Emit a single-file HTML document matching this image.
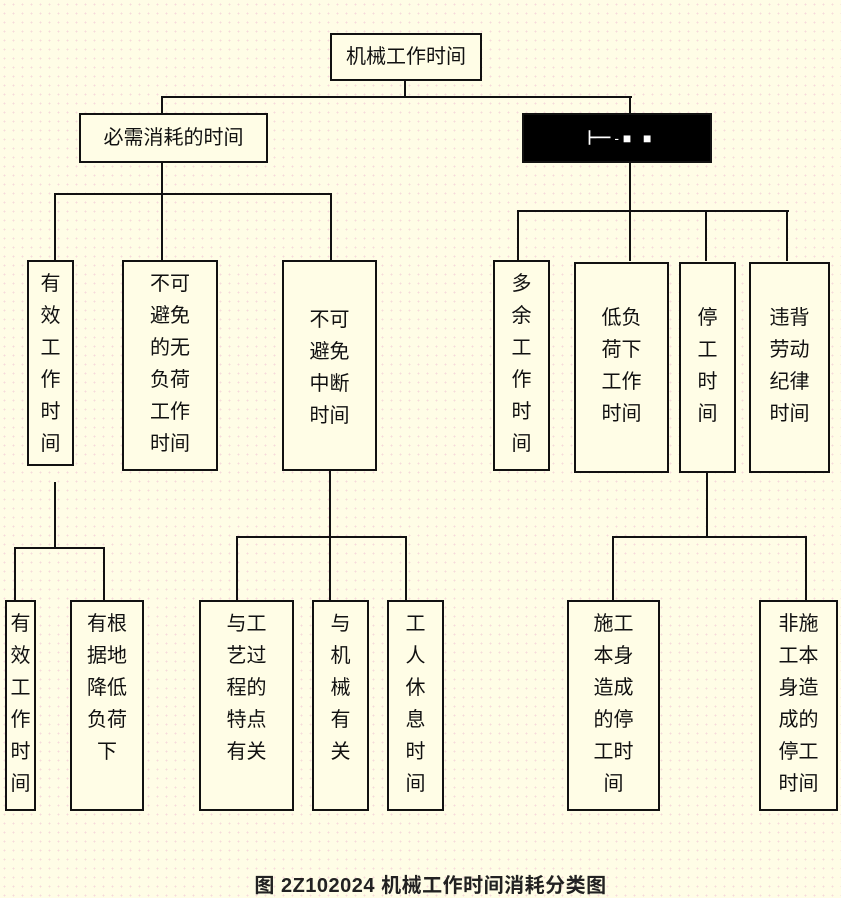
<!DOCTYPE html>
<html><head><meta charset="utf-8"><style>
body{margin:0;width:841px;height:897px;overflow:hidden;background:#fffde6;
background-image:radial-gradient(#f6dada 1px,transparent 1px);background-size:9px 9px;
font-family:"Liberation Sans","Noto Sans CJK SC",sans-serif;position:relative}
.b{position:absolute;border:2px solid #111;box-sizing:border-box;background:#fffde6;text-align:center;font-size:20px;line-height:32px;color:#111}
.h{position:absolute;height:2px;background:#111}
.v{position:absolute;width:2px;background:#111}
</style></head><body>
<div class="b" style="left:330px;top:33px;width:152px;height:48px;line-height:44px">机械工作时间</div>
<div class="v" style="left:404px;top:80px;height:18px"></div>
<div class="h" style="left:161px;top:96px;width:471px"></div>
<div class="v" style="left:161px;top:96px;height:18px"></div>
<div class="v" style="left:629px;top:96px;height:18px"></div>
<div class="b" style="left:79px;top:113px;width:189px;height:50px;line-height:46px">必需消耗的时间</div>
<div class="b" style="left:522px;top:113px;width:190px;height:50px;background:#000;color:#fff;font-size:14px;line-height:46px">┣━ - ■ &nbsp; ■</div>

<div class="v" style="left:161px;top:162px;height:33px"></div>
<div class="h" style="left:54px;top:193px;width:278px"></div>
<div class="v" style="left:54px;top:193px;height:68px"></div>
<div class="v" style="left:161px;top:193px;height:68px"></div>
<div class="v" style="left:330px;top:193px;height:68px"></div>
<div class="b" style="left:27px;top:260px;width:47px;height:206px;padding-top:6px">有<br>效<br>工<br>作<br>时<br>间</div>
<div class="b" style="left:122px;top:260px;width:96px;height:211px;padding-top:6px">不可<br>避免<br>的无<br>负荷<br>工作<br>时间</div>
<div class="b" style="left:282px;top:260px;width:95px;height:211px;padding-top:42px">不可<br>避免<br>中断<br>时间</div>

<div class="v" style="left:629px;top:162px;height:50px"></div>
<div class="h" style="left:517px;top:210px;width:272px"></div>
<div class="v" style="left:517px;top:210px;height:51px"></div>
<div class="v" style="left:629px;top:210px;height:51px"></div>
<div class="v" style="left:705px;top:210px;height:51px"></div>
<div class="v" style="left:786px;top:210px;height:51px"></div>
<div class="b" style="left:493px;top:260px;width:57px;height:211px;padding-top:6px">多<br>余<br>工<br>作<br>时<br>间</div>
<div class="b" style="left:574px;top:262px;width:95px;height:211px;padding-top:38px">低负<br>荷下<br>工作<br>时间</div>
<div class="b" style="left:679px;top:262px;width:57px;height:211px;padding-top:38px">停<br>工<br>时<br>间</div>
<div class="b" style="left:749px;top:262px;width:81px;height:211px;padding-top:38px">违背<br>劳动<br>纪律<br>时间</div>

<div class="v" style="left:54px;top:482px;height:67px"></div>
<div class="h" style="left:14px;top:547px;width:91px"></div>
<div class="v" style="left:14px;top:547px;height:54px"></div>
<div class="v" style="left:103px;top:547px;height:54px"></div>
<div class="b" style="left:5px;top:600px;width:31px;height:211px;padding-top:6px">有<br>效<br>工<br>作<br>时<br>间</div>
<div class="b" style="left:70px;top:600px;width:74px;height:211px;padding-top:6px">有根<br>据地<br>降低<br>负荷<br>下</div>

<div class="v" style="left:329px;top:470px;height:68px"></div>
<div class="h" style="left:236px;top:536px;width:171px"></div>
<div class="v" style="left:236px;top:536px;height:65px"></div>
<div class="v" style="left:329px;top:536px;height:65px"></div>
<div class="v" style="left:405px;top:536px;height:65px"></div>
<div class="b" style="left:199px;top:600px;width:95px;height:211px;padding-top:6px">与工<br>艺过<br>程的<br>特点<br>有关</div>
<div class="b" style="left:312px;top:600px;width:57px;height:211px;padding-top:6px">与<br>机<br>械<br>有<br>关</div>
<div class="b" style="left:387px;top:600px;width:57px;height:211px;padding-top:6px">工<br>人<br>休<br>息<br>时<br>间</div>

<div class="v" style="left:706px;top:472px;height:66px"></div>
<div class="h" style="left:612px;top:536px;width:195px"></div>
<div class="v" style="left:612px;top:536px;height:65px"></div>
<div class="v" style="left:805px;top:536px;height:65px"></div>
<div class="b" style="left:567px;top:600px;width:93px;height:211px;padding-top:6px">施工<br>本身<br>造成<br>的停<br>工时<br>间</div>
<div class="b" style="left:759px;top:600px;width:79px;height:211px;padding-top:6px">非施<br>工本<br>身造<br>成的<br>停工<br>时间</div>

<div style="position:absolute;left:0;width:861px;top:869px;text-align:center;font-size:20px;color:#222;font-weight:bold;letter-spacing:0.5px">图 2Z102024 机械工作时间消耗分类图</div>
</body></html>
